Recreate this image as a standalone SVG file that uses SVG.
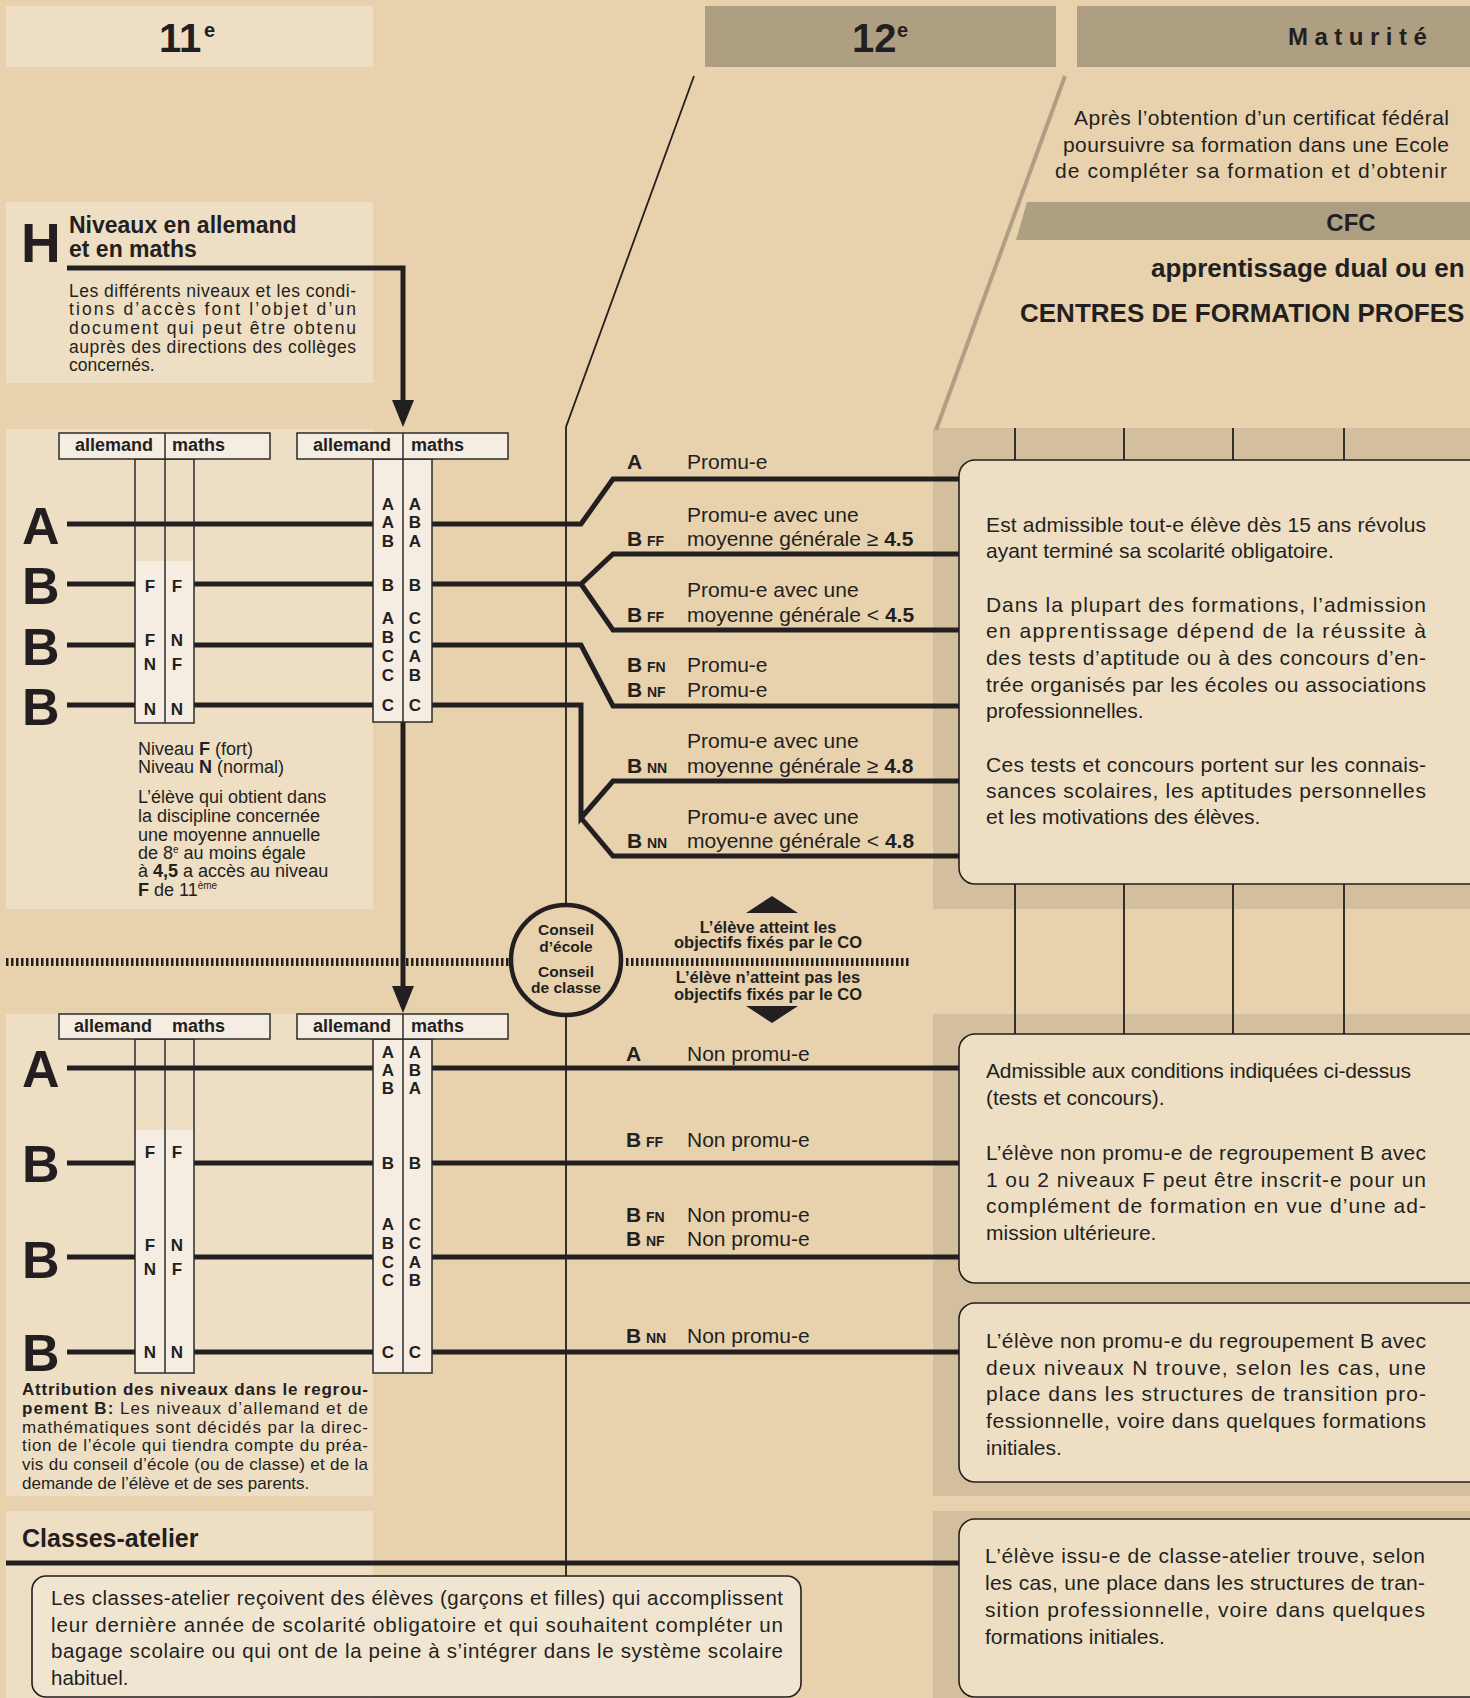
<svg xmlns="http://www.w3.org/2000/svg" width="1470" height="1698" viewBox="0 0 1470 1698">
<style>
text{font-family:"Liberation Sans",Arial,Helvetica,sans-serif;fill:#231F20}
.b{font-weight:bold}
.big{font-size:52px;font-weight:bold}
.hdr{font-size:18px;font-weight:bold}
.col{font-size:17px;font-weight:bold;text-anchor:middle}
.lbl{font-size:21px}
.sub{font-size:14px;font-weight:bold}
.box{font-size:21px}
.sm{font-size:17px}
.panel{fill:#EEDEC3}
.dark{fill:#D3BF9E}
.gray{fill:#AE9F83}
.cfill{fill:#F5EDE1}
.cline{fill:none;stroke:#2b2b2b;stroke-width:1.5}
.route{fill:none;stroke:#231F20;stroke-width:5;stroke-linejoin:miter}
.thin{fill:none;stroke:#231F20;stroke-width:1.8}
.tick{stroke:#231F20;stroke-width:1.8}
.rbox{fill:#EEDFC4;stroke:#231F20;stroke-width:1.6}
.dots{stroke:#231F20;stroke-width:8;stroke-dasharray:2.5 2.5}
</style>
<defs>
<marker id="arr" markerUnits="userSpaceOnUse" viewBox="0 0 28 22" markerWidth="28" markerHeight="22" refX="20" refY="11" orient="auto"><path d="M0,0 L27,11 L0,22 z" fill="#231F20"/></marker>
</defs>

<rect width="1470" height="1698" fill="#E8D2AE"/>

<g id="backgrounds">
<rect class="panel" x="6" y="429" width="367" height="480"/>
<rect class="panel" x="6" y="1014" width="367" height="482"/>
<rect class="panel" x="6" y="1511" width="367" height="187"/>
<rect class="dark" x="933" y="428" width="537" height="481"/>
<rect class="dark" x="933" y="1014" width="537" height="482"/>
<rect class="dark" x="933" y="1511" width="537" height="187"/>
<line x1="1065" y1="76" x2="936" y2="430" stroke="#AE9F83" stroke-width="4"/>
<g class="tick">
<line x1="1015" y1="428" x2="1015" y2="1040"/>
<line x1="1124" y1="428" x2="1124" y2="1040"/>
<line x1="1233" y1="428" x2="1233" y2="1040"/>
<line x1="1344" y1="428" x2="1344" y2="1040"/>
</g>
<path class="thin" d="M694,76 L566,427 V1576"/>
<line class="dots" x1="6" y1="962" x2="510" y2="962"/>
<line class="dots" x1="626" y1="962" x2="910" y2="962"/>
</g>

<g id="header-11">
<rect class="panel" x="6" y="6" width="367" height="61"/>
<text x="159" y="52" font-size="40" class="b">11</text>
<text x="204" y="37" font-size="20" class="b">e</text>
</g>
<g id="header-12">
<rect class="gray" x="705" y="6" width="351" height="61"/>
<text x="852" y="52" font-size="40" class="b">12</text>
<text x="897" y="37" font-size="20" class="b">e</text>
</g>
<g id="header-maturite">
<rect class="gray" x="1077" y="6" width="393" height="61"/>
<text x="1288" y="45" font-size="24" class="b" letter-spacing="6.5">Maturité</text>
</g>

<g id="cfc">
<text class="box" x="1074" y="125" textLength="375">Après l’obtention d’un certificat fédéral</text>
<text class="box" x="1063" y="152" textLength="386">poursuivre sa formation dans une Ecole</text>
<text class="box" x="1055" y="178" textLength="392">de compléter sa formation et d’obtenir</text>
<polygon class="gray" points="1027,202 1470,202 1470,240 1016,240"/>
<text x="1351" y="231" font-size="24" class="b" text-anchor="middle">CFC</text>
<text x="1151" y="277" font-size="26" class="b">apprentissage dual ou en</text>
<text x="1020" y="322" font-size="26" class="b">CENTRES DE FORMATION PROFES</text>
</g>

<g id="h-note">
<rect class="panel" x="6" y="202" width="367" height="181"/>
<text x="21" y="262" font-size="55" class="b">H</text>
<text x="69" y="233" font-size="23" class="b">Niveaux en allemand</text>
<text x="69" y="257" font-size="23" class="b">et en maths</text>
<g font-size="17.5">
<text x="69" y="297" textLength="287">Les différents niveaux et les condi-</text>
<text x="69" y="315" textLength="287">tions d’accès font l’objet d’un</text>
<text x="69" y="334" textLength="287">document qui peut être obtenu</text>
<text x="69" y="353" textLength="287">auprès des directions des collèges</text>
<text x="69" y="371">concernés.</text>
</g>
</g>

<g id="connectors">
<path class="route" d="M67,268 H403 V420" marker-end="url(#arr)"/>
<path class="route" d="M403,722 V1006" marker-end="url(#arr)"/>
<path class="route" d="M67,524 H581 L613,479 H959"/>
<path class="route" d="M67,584 H581 L613,554 H959"/>
<path class="route" d="M581,584 L613,630 H959"/>
<path class="route" d="M67,645 H581 L613,706 H959"/>
<path class="route" d="M67,705 H581 V818 L613,781 H959"/>
<path class="route" d="M581,818 L613,856 H959"/>
<path class="route" d="M67,1068 H959"/>
<path class="route" d="M67,1163 H959"/>
<path class="route" d="M67,1257 H959"/>
<path class="route" d="M67,1352 H959"/>
<path class="route" d="M6,1563 H959" stroke-width="6"/>
</g>

<g id="grid-upper">
<rect class="cfill" x="135" y="561" width="59" height="162"/>
<rect class="cline" x="135" y="459" width="59" height="264"/>
<line class="cline" x1="165" y1="459" x2="165" y2="723"/>
<rect class="cfill" x="373" y="459" width="59" height="263"/>
<rect class="cline" x="373" y="459" width="59" height="263"/>
<line class="cline" x1="403" y1="459" x2="403" y2="722"/>
<rect class="cfill" x="59" y="433" width="211" height="26"/>
<rect class="cline" x="59" y="433" width="211" height="26"/>
<line class="cline" x1="165" y1="433" x2="165" y2="459"/>
<rect class="cfill" x="297" y="433" width="211" height="26"/>
<rect class="cline" x="297" y="433" width="211" height="26"/>
<line class="cline" x1="403" y1="433" x2="403" y2="459"/>
<text class="hdr" x="75" y="451">allemand</text><text class="hdr" x="172" y="451">maths</text>
<text class="hdr" x="313" y="451">allemand</text><text class="hdr" x="411" y="451">maths</text>
<text class="big" x="22" y="544">A</text>
<text class="big" x="22" y="604">B</text>
<text class="big" x="22" y="665">B</text>
<text class="big" x="22" y="725">B</text>
<g class="col">
<text x="150" y="592">F</text><text x="177" y="592">F</text>
<text x="150" y="646">F</text><text x="177" y="646">N</text>
<text x="150" y="670">N</text><text x="177" y="670">F</text>
<text x="150" y="715">N</text><text x="177" y="715">N</text>
<text x="388" y="510">A</text><text x="415" y="510">A</text>
<text x="388" y="528">A</text><text x="415" y="528">B</text>
<text x="388" y="547">B</text><text x="415" y="547">A</text>
<text x="388" y="591">B</text><text x="415" y="591">B</text>
<text x="388" y="624">A</text><text x="415" y="624">C</text>
<text x="388" y="643">B</text><text x="415" y="643">C</text>
<text x="388" y="662">C</text><text x="415" y="662">A</text>
<text x="388" y="681">C</text><text x="415" y="681">B</text>
<text x="388" y="711">C</text><text x="415" y="711">C</text>
</g>
<g font-size="18">
<text x="138" y="755">Niveau <tspan class="b">F</tspan> (fort)</text>
<text x="138" y="773">Niveau <tspan class="b">N</tspan> (normal)</text>
<text x="138" y="803">L’élève qui obtient dans</text>
<text x="138" y="822">la discipline concernée</text>
<text x="138" y="841">une moyenne annuelle</text>
<text x="138" y="859">de 8<tspan dy="-6" font-size="10">e</tspan><tspan dy="6"> au moins égale</tspan></text>
<text x="138" y="877">à <tspan class="b">4,5</tspan> a accès au niveau</text>
<text x="138" y="896"><tspan class="b">F</tspan> de 11<tspan dy="-7" font-size="10">ème</tspan></text>
</g>
</g>

<g id="labels-promu">
<text class="lbl b" x="627" y="469">A</text><text class="lbl" x="687" y="469">Promu-e</text>
<text class="lbl" x="687" y="522">Promu-e avec une</text>
<text class="lbl b" x="627" y="546">B</text><text class="sub" x="647" y="546">FF</text>
<text class="lbl" x="687" y="546">moyenne générale ≥ <tspan class="b">4.5</tspan></text>
<text class="lbl" x="687" y="597">Promu-e avec une</text>
<text class="lbl b" x="627" y="622">B</text><text class="sub" x="647" y="622">FF</text>
<text class="lbl" x="687" y="622">moyenne générale &lt; <tspan class="b">4.5</tspan></text>
<text class="lbl b" x="627" y="672">B</text><text class="sub" x="647" y="672">FN</text><text class="lbl" x="687" y="672">Promu-e</text>
<text class="lbl b" x="627" y="697">B</text><text class="sub" x="647" y="697">NF</text><text class="lbl" x="687" y="697">Promu-e</text>
<text class="lbl" x="687" y="748">Promu-e avec une</text>
<text class="lbl b" x="627" y="773">B</text><text class="sub" x="647" y="773">NN</text>
<text class="lbl" x="687" y="773">moyenne générale ≥ <tspan class="b">4.8</tspan></text>
<text class="lbl" x="687" y="824">Promu-e avec une</text>
<text class="lbl b" x="627" y="848">B</text><text class="sub" x="647" y="848">NN</text>
<text class="lbl" x="687" y="848">moyenne générale &lt; <tspan class="b">4.8</tspan></text>
</g>

<g id="conseil">
<circle cx="566" cy="960" r="55" fill="#E8D2AE" stroke="#231F20" stroke-width="4.5"/>
<g font-size="15.5" class="b" text-anchor="middle">
<text x="566" y="935" class="b">Conseil</text>
<text x="566" y="952" class="b">d’école</text>
<text x="566" y="977" class="b">Conseil</text>
<text x="566" y="993" class="b">de classe</text>
</g>
</g>

<g id="objectifs">
<polygon points="772,896 798,913 746,913" fill="#231F20"/>
<polygon points="746,1006 798,1006 772,1023" fill="#231F20"/>
<g font-size="16.5" text-anchor="middle">
<text x="768" y="933" class="b">L’élève atteint les</text>
<text x="768" y="948" class="b">objectifs fixés par le CO</text>
<text x="768" y="983" class="b">L’élève n’atteint pas les</text>
<text x="768" y="1000" class="b">objectifs fixés par le CO</text>
</g>
</g>

<g id="grid-lower">
<rect class="cfill" x="135" y="1130" width="59" height="243"/>
<rect class="cline" x="135" y="1039" width="59" height="334"/>
<line class="cline" x1="165" y1="1039" x2="165" y2="1373"/>
<rect class="cfill" x="373" y="1039" width="59" height="334"/>
<rect class="cline" x="373" y="1039" width="59" height="334"/>
<line class="cline" x1="403" y1="1039" x2="403" y2="1373"/>
<rect class="cfill" x="59" y="1014" width="211" height="25"/>
<rect class="cline" x="59" y="1014" width="211" height="25"/>
<rect class="cfill" x="297" y="1014" width="211" height="25"/>
<rect class="cline" x="297" y="1014" width="211" height="25"/>
<line class="cline" x1="403" y1="1014" x2="403" y2="1039"/>
<text class="hdr" x="74" y="1032">allemand</text><text class="hdr" x="172" y="1032">maths</text>
<text class="hdr" x="313" y="1032">allemand</text><text class="hdr" x="411" y="1032">maths</text>
<text class="big" x="22" y="1087">A</text>
<text class="big" x="22" y="1182">B</text>
<text class="big" x="22" y="1278">B</text>
<text class="big" x="22" y="1371">B</text>
<g class="col">
<text x="150" y="1158">F</text><text x="177" y="1158">F</text>
<text x="150" y="1251">F</text><text x="177" y="1251">N</text>
<text x="150" y="1275">N</text><text x="177" y="1275">F</text>
<text x="150" y="1358">N</text><text x="177" y="1358">N</text>
<text x="388" y="1058">A</text><text x="415" y="1058">A</text>
<text x="388" y="1076">A</text><text x="415" y="1076">B</text>
<text x="388" y="1094">B</text><text x="415" y="1094">A</text>
<text x="388" y="1169">B</text><text x="415" y="1169">B</text>
<text x="388" y="1230">A</text><text x="415" y="1230">C</text>
<text x="388" y="1249">B</text><text x="415" y="1249">C</text>
<text x="388" y="1268">C</text><text x="415" y="1268">A</text>
<text x="388" y="1286">C</text><text x="415" y="1286">B</text>
<text x="388" y="1358">C</text><text x="415" y="1358">C</text>
</g>
<g class="sm">
<text x="22" y="1395" textLength="346" class="b">Attribution des niveaux dans le regrou-</text>
<text x="22" y="1414" textLength="346"><tspan class="b">pement B:</tspan> Les niveaux d’allemand et de</text>
<text x="22" y="1433" textLength="346">mathématiques sont décidés par la direc-</text>
<text x="22" y="1451" textLength="346">tion de l’école qui tiendra compte du préa-</text>
<text x="22" y="1470" textLength="346">vis du conseil d’école (ou de classe) et de la</text>
<text x="22" y="1489">demande de l’élève et de ses parents.</text>
</g>
</g>

<g id="labels-nonpromu">
<text class="lbl b" x="626" y="1061">A</text><text class="lbl" x="687" y="1061">Non promu-e</text>
<text class="lbl b" x="626" y="1147">B</text><text class="sub" x="646" y="1147">FF</text><text class="lbl" x="687" y="1147">Non promu-e</text>
<text class="lbl b" x="626" y="1222">B</text><text class="sub" x="646" y="1222">FN</text><text class="lbl" x="687" y="1222">Non promu-e</text>
<text class="lbl b" x="626" y="1246">B</text><text class="sub" x="646" y="1246">NF</text><text class="lbl" x="687" y="1246">Non promu-e</text>
<text class="lbl b" x="626" y="1343">B</text><text class="sub" x="646" y="1343">NN</text><text class="lbl" x="687" y="1343">Non promu-e</text>
</g>

<g id="box-admission">
<rect class="rbox" x="959" y="460" width="540" height="424" rx="16"/>
<g class="box">
<text x="986" y="532" textLength="440">Est admissible tout-e élève dès 15 ans révolus</text>
<text x="986" y="558">ayant terminé sa scolarité obligatoire.</text>
<text x="986" y="612" textLength="440">Dans la plupart des formations, l’admission</text>
<text x="986" y="638" textLength="440">en apprentissage dépend de la réussite à</text>
<text x="986" y="665" textLength="440">des tests d’aptitude ou à des concours d’en-</text>
<text x="986" y="692" textLength="440">trée organisés par les écoles ou associations</text>
<text x="986" y="718">professionnelles.</text>
<text x="986" y="772" textLength="440">Ces tests et concours portent sur les connais-</text>
<text x="986" y="798" textLength="440">sances scolaires, les aptitudes personnelles</text>
<text x="986" y="824">et les motivations des élèves.</text>
</g>
</g>

<g id="box-nonpromu-f">
<rect class="rbox" x="959" y="1034" width="540" height="249" rx="16"/>
<g class="box">
<text x="986" y="1078" textLength="425">Admissible aux conditions indiquées ci-dessus</text>
<text x="986" y="1105">(tests et concours).</text>
<text x="986" y="1160" textLength="440">L’élève non promu-e de regroupement B avec</text>
<text x="986" y="1187" textLength="440">1 ou 2 niveaux F peut être inscrit-e pour un</text>
<text x="986" y="1213" textLength="440">complément de formation en vue d’une ad-</text>
<text x="986" y="1240">mission ultérieure.</text>
</g>
</g>

<g id="box-nonpromu-nn">
<rect class="rbox" x="959" y="1303" width="540" height="179" rx="16"/>
<g class="box">
<text x="986" y="1348" textLength="440">L’élève non promu-e du regroupement B avec</text>
<text x="986" y="1375" textLength="440">deux niveaux N trouve, selon les cas, une</text>
<text x="986" y="1401" textLength="440">place dans les structures de transition pro-</text>
<text x="986" y="1428" textLength="440">fessionnelle, voire dans quelques formations</text>
<text x="986" y="1455">initiales.</text>
</g>
</g>

<g id="box-classes-atelier-issue">
<rect class="rbox" x="959" y="1519" width="540" height="178" rx="16"/>
<g class="box">
<text x="985" y="1563" textLength="440">L’élève issu-e de classe-atelier trouve, selon</text>
<text x="985" y="1590" textLength="440">les cas, une place dans les structures de tran-</text>
<text x="985" y="1617" textLength="440">sition professionnelle, voire dans quelques</text>
<text x="985" y="1644">formations initiales.</text>
</g>
</g>

<g id="classes-atelier">
<text x="22" y="1547" font-size="25" class="b">Classes-atelier</text>
<rect x="32" y="1576" width="769" height="121" rx="14" fill="#F0E5D0" stroke="#231F20" stroke-width="1.6"/>
<g font-size="20.5">
<text x="51" y="1605" textLength="732">Les classes-atelier reçoivent des élèves (garçons et filles) qui accomplissent</text>
<text x="51" y="1632" textLength="732">leur dernière année de scolarité obligatoire et qui souhaitent compléter un</text>
<text x="51" y="1658" textLength="732">bagage scolaire ou qui ont de la peine à s’intégrer dans le système scolaire</text>
<text x="51" y="1685">habituel.</text>
</g>
</g>
</svg>
